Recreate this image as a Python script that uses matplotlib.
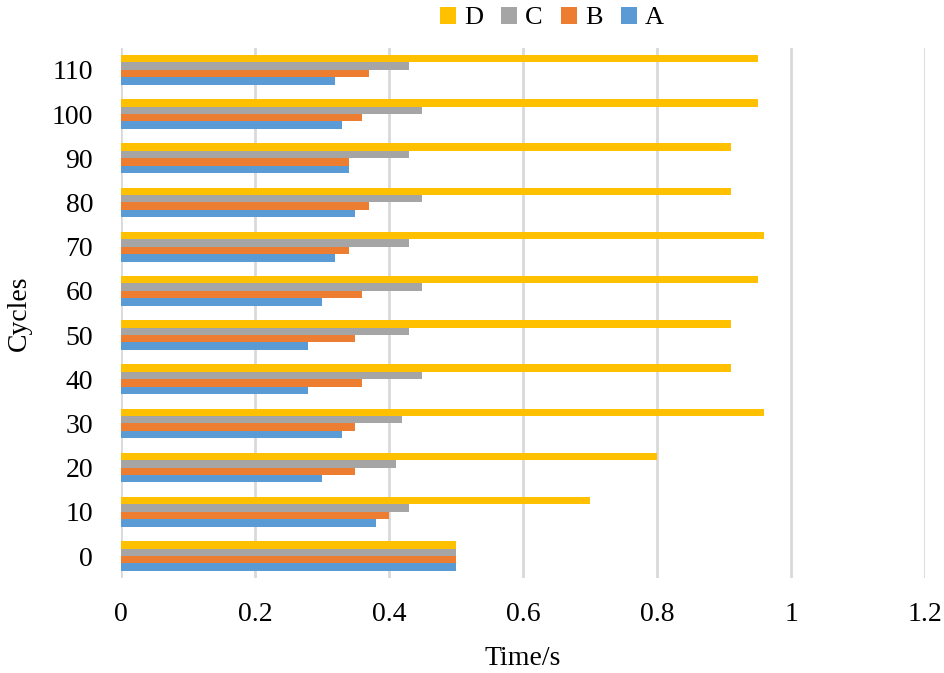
import numpy as np
import matplotlib
matplotlib.use("Agg")
import matplotlib.pyplot as plt

plt.rcParams['font.family'] = ['Liberation Serif', 'DejaVu Serif']

cycles = ['0', '10', '20', '30', '40', '50', '60', '70', '80', '90', '100', '110']
series_a = [0.50, 0.38, 0.30, 0.33, 0.28, 0.28, 0.30, 0.32, 0.35, 0.34, 0.33, 0.32]
series_b = [0.50, 0.40, 0.35, 0.35, 0.36, 0.35, 0.36, 0.34, 0.37, 0.34, 0.36, 0.37]
series_c = [0.50, 0.43, 0.41, 0.42, 0.45, 0.43, 0.45, 0.43, 0.45, 0.43, 0.45, 0.43]
series_d = [0.50, 0.70, 0.80, 0.96, 0.91, 0.91, 0.95, 0.96, 0.91, 0.91, 0.95, 0.95]
names = ['A', 'B', 'C', 'D']
colors = ['#5B9BD5', '#ED7D31', '#A5A5A5', '#FFC000']

fig = plt.figure(figsize=(9.44, 6.73), dpi=100)
ax = fig.add_axes([0.128, 0.141, 0.852, 0.788])

y = np.arange(len(cycles))
h = 0.168
bars = []
for i, (vals, name, c) in enumerate(zip([series_a, series_b, series_c, series_d], names, colors)):
    b = ax.barh(y + (i - 1.5) * h, vals, height=h, color=c, label=name, zorder=3)
    bars.append(b)

ax.set_xlim(0, 1.2)
ax.set_ylim(-0.5, len(cycles) - 0.5)
ax.set_xticks(np.arange(0, 1.21, 0.2))
ax.set_xticklabels(['0', '0.2', '0.4', '0.6', '0.8', '1', '1.2'])
ax.set_yticks(y)
ax.set_yticklabels(cycles)
ax.tick_params(length=0, labelsize=20)
ax.tick_params(axis='y', pad=20)
ax.tick_params(axis='x', pad=17)
ax.grid(axis='x', color='#D9D9D9', linewidth=2, zorder=0)
for s in ax.spines.values():
    s.set_visible(False)

ax.set_xlabel('Time/s', fontsize=20, labelpad=14)
ax.set_ylabel('Cycles', fontsize=20, labelpad=14)

ax.legend(bars[::-1], names[::-1], ncol=4, frameon=False, fontsize=19,
          loc='center', bbox_to_anchor=(0.536, 1.056), handlelength=0.6,
          handleheight=0.6, handletextpad=0.3, columnspacing=0.7)

fig.savefig('out.png', dpi=100)
